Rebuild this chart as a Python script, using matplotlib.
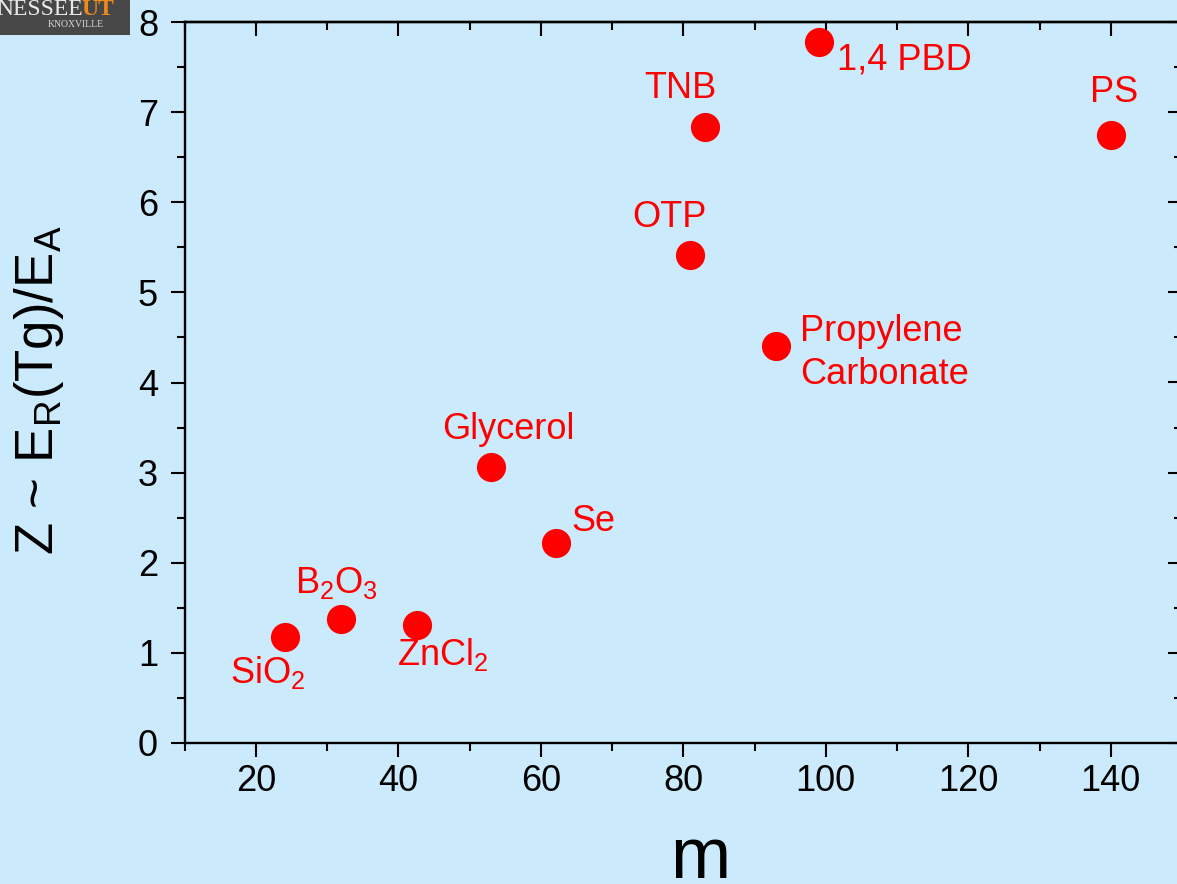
import matplotlib
matplotlib.use("Agg")
import matplotlib.pyplot as plt
from matplotlib.ticker import MultipleLocator
from matplotlib.patches import Rectangle

plt.rcParams['font.family'] = ['Liberation Sans', 'DejaVu Sans']
plt.rcParams['mathtext.fontset'] = 'custom'
plt.rcParams['mathtext.rm'] = 'Liberation Sans'
plt.rcParams['mathtext.default'] = 'regular'

# fragility m vs Z ~ E_R(Tg)/E_A
names = ['SiO$_2$', 'B$_2$O$_3$', 'ZnCl$_2$', 'Glycerol', 'Se', 'OTP', 'TNB',
         'Propylene\nCarbonate', '1,4 PBD', 'PS']
m = [24.1, 32.0, 42.6, 53.0, 62.1, 80.9, 83.0, 93.0, 99.0, 140.0]
z = [1.18, 1.38, 1.31, 3.06, 2.22, 5.41, 6.83, 4.40, 7.78, 6.75]

# label offsets from each point (pixels, +y down), left/baseline of last line
dx_px = [-55, -46, -20, -49, 16, -57, -60, 24, 18, -21]
dy_px = [46, -26, 40, -28, -12, -28, -29, 38, 28, -33]

bg = '#cbebfd'
red = '#ff0000'

W, H = 1177, 884
fig = plt.figure(figsize=(W / 100, H / 100), dpi=100, facecolor=bg)
ax = fig.add_axes([184.5 / W, (H - 743) / H, (1182 - 184.5) / W, (743 - 22) / H])
ax.set_facecolor(bg)

ax.plot(m, z, 'o', color=red, markersize=21, markeredgewidth=0, zorder=3)
for name, xv, yv, dx, dy in zip(names, m, z, dx_px, dy_px):
    ax.annotate(name, (xv, yv), xytext=(dx * 0.72, -dy * 0.72),
                textcoords='offset points', ha='left', va='baseline',
                color=red, fontsize=26, linespacing=1.3)

ax.set_xlim(10, 150)
ax.set_ylim(0, 8)
ax.xaxis.set_major_locator(MultipleLocator(20))
ax.xaxis.set_minor_locator(MultipleLocator(10))
ax.yaxis.set_major_locator(MultipleLocator(1))
ax.yaxis.set_minor_locator(MultipleLocator(0.5))

for s in ax.spines.values():
    s.set_linewidth(1.7)
ax.tick_params(which='both', direction='out', width=1.5, labelsize=26)
ax.tick_params(which='major', length=10)
ax.tick_params(which='minor', length=5.5)
ax.tick_params(axis='x', pad=5)
ax.tick_params(axis='y', pad=9)

# inward ticks on top and right, no labels
top = ax.secondary_xaxis('top')
right = ax.secondary_yaxis('right')
top.xaxis.set_major_locator(MultipleLocator(20))
top.xaxis.set_minor_locator(MultipleLocator(10))
right.yaxis.set_major_locator(MultipleLocator(1))
right.yaxis.set_minor_locator(MultipleLocator(0.5))
for sec in (top, right):
    sec.tick_params(which='both', direction='in', width=1.5,
                    labeltop=False, labelright=False)
    sec.tick_params(which='major', length=10)
    sec.tick_params(which='minor', length=5.5)
    for s in sec.spines.values():
        s.set_linewidth(1.7)

ax.set_xlabel('m', fontsize=52, va='baseline')
ax.xaxis.set_label_coords((700 - 184.5) / 997.5, (743 - 878) / 721)
ax.set_ylabel('Z ~ E$_R$(Tg)/E$_A$', fontsize=38, va='baseline')
ax.yaxis.set_label_coords((53 - 184.5) / 997.5, (743 - 390) / 721)

# corner logo strip
fig.patches.append(Rectangle((0, (H - 35) / H), 130 / W, 35 / H,
                             transform=fig.transFigure, facecolor='#474747',
                             edgecolor='none', zorder=5))
fig.text(-4 / W, (H - 15) / H, 'NESSEE', family='Liberation Serif', fontsize=17,
         color='#e8e8e8', ha='left', va='baseline', zorder=6)
fig.text(81 / W, (H - 15) / H, 'UT', family='Liberation Serif', fontsize=17,
         fontweight='bold', color='#f08a1c', ha='left', va='baseline', zorder=6)
fig.text(76 / W, (H - 27) / H, 'KNOXVILLE', family='Liberation Serif', fontsize=7,
         color='#d8d8d8', ha='center', va='baseline', zorder=6)

fig.savefig('out.png', dpi=100, facecolor=bg)
